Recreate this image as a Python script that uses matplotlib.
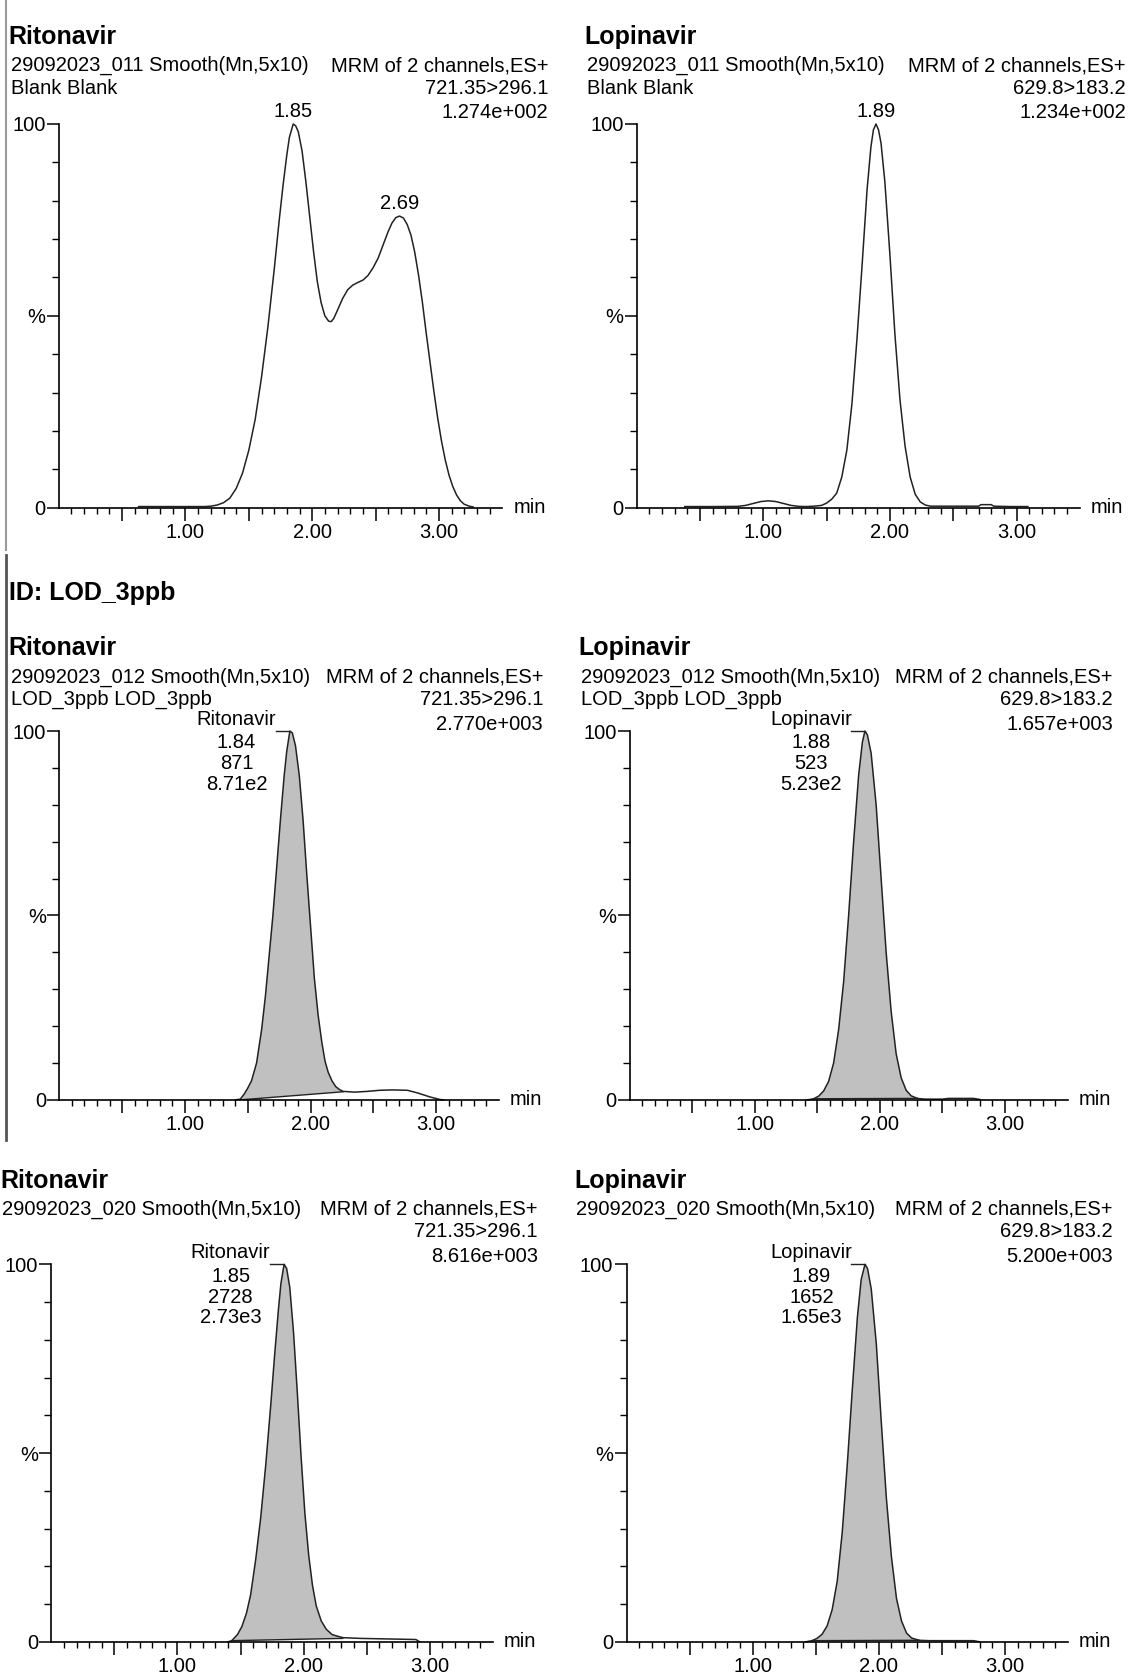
import numpy as np
import matplotlib
matplotlib.use("Agg")
import matplotlib.pyplot as plt
from matplotlib.lines import Line2D
from matplotlib.ticker import FixedLocator, NullFormatter

plt.rcParams['font.family'] = ['Liberation Sans', 'DejaVu Sans']

# ---- chromatogram traces (time in min, intensity in %) ----

# Ritonavir, 29092023_011 (blank)
rit_blank_t = [0.63, 0.80, 1.00, 1.15, 1.20, 1.25, 1.30, 1.35, 1.40, 1.45, 1.50, 1.55, 1.60, 1.65,
               1.70, 1.74, 1.77, 1.80, 1.82, 1.85, 1.87, 1.89, 1.92, 1.95, 1.98, 2.01, 2.04, 2.07,
               2.10, 2.13, 2.15, 2.17, 2.20, 2.24, 2.28, 2.32, 2.36, 2.40, 2.44, 2.48, 2.52, 2.56,
               2.60, 2.63, 2.66, 2.69, 2.72, 2.75, 2.78, 2.81, 2.84, 2.87, 2.90, 2.93, 2.96, 2.99,
               3.02, 3.05, 3.08, 3.11, 3.14, 3.17, 3.20, 3.24, 3.27]
rit_blank_i = [0.3, 0.3, 0.3, 0.3, 0.4, 0.7, 1.3, 2.5, 5, 9, 15, 23, 34, 47,
               62, 75, 84, 92, 96.5, 100, 99.5, 98, 93, 85, 76, 67, 59, 53.5,
               50, 48.6, 48.5, 49.3, 51.5, 54.5, 56.8, 58, 58.7, 59.3, 60.5, 62.5, 65, 68.5,
               72, 74.2, 75.6, 76, 75.5, 73.8, 71, 66.5, 60.5, 53.5, 45.5, 38, 30.5, 23.5,
               17.5, 12.5, 8.5, 5.5, 3.3, 1.8, 0.9, 0.4, 0.2]

# Lopinavir, 29092023_011 (blank)
lop_blank_t = [0.38, 0.60, 0.80, 0.86, 0.92, 0.98, 1.04, 1.10, 1.16, 1.22, 1.28, 1.34, 1.40, 1.46,
               1.50, 1.54, 1.58, 1.62, 1.66, 1.70, 1.74, 1.78, 1.82, 1.85, 1.87, 1.89, 1.91, 1.93,
               1.96, 2.00, 2.04, 2.08, 2.12, 2.16, 2.20, 2.24, 2.28, 2.32, 2.50, 2.70, 2.72, 2.80,
               2.82, 2.95, 3.09]
lop_blank_i = [0.3, 0.3, 0.35, 0.6, 1.1, 1.6, 1.8, 1.6, 1.1, 0.6, 0.35, 0.3, 0.4, 0.6,
               1.2, 2.2, 3.8, 8, 15, 27, 44, 63, 83, 94, 98.5, 100, 98.5, 95,
               85, 66, 45, 28, 16, 8, 3.5, 1.5, 0.7, 0.4, 0.4, 0.4, 0.8, 0.8,
               0.4, 0.3, 0.3]

# Ritonavir, 29092023_012 (LOD_3ppb)
rit_lod_t = [1.40, 1.44, 1.47, 1.50, 1.53, 1.57, 1.61, 1.64, 1.67, 1.70, 1.73, 1.76, 1.79, 1.81,
             1.835, 1.855, 1.88, 1.91, 1.94, 1.97, 2.00, 2.03, 2.06, 2.09, 2.115, 2.14, 2.17, 2.20,
             2.23, 2.26, 2.35, 2.45, 2.55, 2.65, 2.77, 2.85, 2.95, 3.03, 3.06]
rit_lod_i = [0, 0.2, 1.5, 3.2, 5.2, 10, 19, 28, 39, 50, 63, 76, 88, 94.5,
             100, 99.5, 96, 88, 76, 61, 47, 33, 23, 15.5, 10.5, 7.5, 5.2, 3.6,
             2.8, 2.3, 2.1, 2.3, 2.6, 2.7, 2.6, 1.9, 0.8, 0.1, 0]
rit_lod_base_t = [1.44, 2.26]
rit_lod_base_i = [0.0, 2.2]

# Lopinavir, 29092023_012 (LOD_3ppb)
lop_lod_t = [1.42, 1.47, 1.51, 1.55, 1.59, 1.63, 1.67, 1.71, 1.75, 1.79, 1.83, 1.86, 1.88, 1.90,
             1.93, 1.97, 2.01, 2.05, 2.09, 2.13, 2.17, 2.21, 2.25, 2.30, 2.36, 2.50, 2.55, 2.75,
             2.80]
lop_lod_i = [0, 0.3, 1.0, 2.4, 5, 10, 19, 32, 50, 70, 88, 97, 100, 99,
             94, 80, 60, 40, 24, 12.5, 6, 2.6, 1.1, 0.4, 0.2, 0.2, 0.4, 0.4,
             0.1]
lop_lod_base_t = [1.47, 2.30]
lop_lod_base_i = [0.3, 0.4]

# Ritonavir, 29092023_020
rit_020_t = [1.40, 1.43, 1.475, 1.51, 1.547, 1.58, 1.62, 1.66, 1.70, 1.74, 1.77, 1.80, 1.82, 1.845,
             1.865, 1.89, 1.92, 1.95, 1.98, 2.01, 2.04, 2.07, 2.10, 2.14, 2.18, 2.226, 2.31, 2.45,
             2.60, 2.75, 2.89, 2.92]
rit_020_i = [0, 0.3, 1.9, 4, 7.6, 12.5, 21.8, 33, 47, 63, 76, 88, 95, 100,
             99, 94, 82, 66, 49, 34, 23, 15, 9.5, 5.5, 3.3, 1.9, 1.1, 0.9,
             0.8, 0.7, 0.6, 0]
rit_020_base_t = [1.43, 2.31]
rit_020_base_i = [0.3, 0.9]

# Lopinavir, 29092023_020
lop_020_t = [1.42, 1.47, 1.51, 1.55, 1.59, 1.63, 1.67, 1.71, 1.75, 1.79, 1.83, 1.86, 1.89, 1.91,
             1.94, 1.98, 2.02, 2.06, 2.10, 2.14, 2.18, 2.22, 2.26, 2.32, 2.40, 2.55, 2.75, 2.80]
lop_020_i = [0, 0.3, 0.9, 2, 4.2, 8.5, 16, 29, 47, 67, 86, 96, 100, 99,
             93.5, 79, 58, 38, 22.5, 11.5, 5.5, 2.3, 1.0, 0.4, 0.3, 0.3, 0.3, 0]
lop_020_base_t = [1.47, 2.32]
lop_020_base_i = [0.3, 0.4]

W, H = 1056.0, 1568.0   # layout was measured on the reference at this size

fig = plt.figure(figsize=(11.29, 16.76), dpi=100)

LINE = '#222222'
FILL = '#c0c0c0'
FS = 14.5
FS_T = 18


def txt(x, y, s, ha='left', size=FS, weight='normal'):
    fig.text(x / W, 1 - (y + 1.5) / H, s, ha=ha, va='center', fontsize=size, fontweight=weight)


def header(xl, xr, y0, title, left_lines, right_lines):
    txt(xl - 2, y0, title, size=FS_T, weight='bold')
    for k, s in enumerate(left_lines):
        txt(xl, y0 + 27 + 21 * k, s)
    ys = [y0 + 27, y0 + 48, y0 + 71]
    for y, s in zip(ys, right_lines):
        txt(xr, y, s, ha='right')


def panel(x0, x1, ytop, ybot, t, inten, base_t=None, base_i=None):
    ax = fig.add_axes([x0 / W, 1 - ybot / H, (x1 - x0) / W, (ybot - ytop) / H])
    ax.set_xlim(0, 3.5)
    ax.set_ylim(0, 100)
    for s in ['top', 'right']:
        ax.spines[s].set_visible(False)
    for s in ['left', 'bottom']:
        ax.spines[s].set_linewidth(1.2)
    t = np.asarray(t)
    inten = np.asarray(inten)
    if base_t is not None:
        m = (t >= base_t[0]) & (t <= base_t[1])
        px = np.concatenate([t[m], base_t[::-1]])
        py = np.concatenate([inten[m], base_i[::-1]])
        ax.fill(px, py, color=FILL, lw=0)
        ax.plot(base_t, base_i, color=LINE, lw=1.0)
    ax.plot(t, inten, color=LINE, lw=1.1, clip_on=False, solid_joinstyle='round')

    maj = [0.5, 1.0, 1.5, 2.0, 2.5, 3.0]
    mnr = [round(0.1 * k, 1) for k in range(1, 35) if round(0.1 * k, 1) not in maj]
    ax.xaxis.set_major_locator(FixedLocator(maj))
    ax.xaxis.set_minor_locator(FixedLocator(mnr))
    ax.set_xticklabels(['' if v % 1 else '%.2f' % v for v in maj])
    ax.tick_params(axis='x', which='major', length=9, width=1.1, direction='out', labelsize=FS, pad=2)
    ax.tick_params(axis='x', which='minor', length=4, width=1.0, direction='out')
    ax.yaxis.set_major_locator(FixedLocator([0, 50, 100]))
    ax.yaxis.set_minor_locator(FixedLocator([10, 20, 30, 40, 60, 70, 80, 90]))
    ax.set_yticklabels(['0', '%', '100'])
    ax.yaxis.set_minor_formatter(NullFormatter())
    ax.tick_params(axis='y', which='major', length=8.5, width=1.1, direction='out', labelsize=FS, pad=1)
    ax.tick_params(axis='y', which='minor', length=4.8, width=1.0, direction='out')
    ax.annotate('min', xy=(1, 0), xycoords='axes fraction', xytext=(8, 0),
                textcoords='offset points', ha='left', va='center', fontsize=FS)
    return ax


def rt_label(ax, t, inten, label):
    t = np.asarray(t)
    inten = np.asarray(inten)
    # label the apex nearest to the given retention time
    k = np.argmin(np.abs(t - float(label)))
    ax.annotate(label, xy=(t[k], inten[k]), xytext=(0, 9), textcoords='offset points',
                ha='center', va='center', fontsize=FS)


def peak_block(ax, t, inten, name, lines):
    k = int(np.argmax(inten))
    tp, ip = t[k], inten[k]
    ax.plot([tp - 0.11, tp], [ip, ip], color=LINE, lw=1.0, clip_on=False)
    ax.annotate(name, xy=(tp, ip), xytext=(-38.5, 8.5), textcoords='offset points',
                ha='center', va='center', fontsize=FS)
    for j, s in enumerate(lines):
        ax.annotate(s, xy=(tp, ip), xytext=(-38.5, -8.5 - 15 * j), textcoords='offset points',
                    ha='center', va='center', fontsize=FS)


# ---- top row: blank ----
header(10, 513, 33, 'Ritonavir', ['29092023_011 Smooth(Mn,5x10)', 'Blank Blank'],
       ['MRM of 2 channels,ES+', '721.35>296.1', '1.274e+002'])
ax = panel(55, 469.75, 116, 475, rit_blank_t, rit_blank_i)
rt_label(ax, rit_blank_t, rit_blank_i, '1.85')
rt_label(ax, rit_blank_t, rit_blank_i, '2.69')

header(549, 1053, 33, 'Lopinavir', ['29092023_011 Smooth(Mn,5x10)', 'Blank Blank'],
       ['MRM of 2 channels,ES+', '629.8>183.2', '1.234e+002'])
ax = panel(595.5, 1010, 116, 475, lop_blank_t, lop_blank_i)
rt_label(ax, lop_blank_t, lop_blank_i, '1.89')

txt(8, 553, 'ID: LOD_3ppb', size=FS_T, weight='bold')

# ---- middle row: LOD_3ppb ----
header(10, 508, 605, 'Ritonavir', ['29092023_012 Smooth(Mn,5x10)', 'LOD_3ppb LOD_3ppb'],
       ['MRM of 2 channels,ES+', '721.35>296.1', '2.770e+003'])
ax = panel(55.5, 466.75, 684, 1029, rit_lod_t, rit_lod_i, rit_lod_base_t, rit_lod_base_i)
peak_block(ax, rit_lod_t, rit_lod_i, 'Ritonavir', ['1.84', '871', '8.71e2'])

header(543, 1041, 605, 'Lopinavir', ['29092023_012 Smooth(Mn,5x10)', 'LOD_3ppb LOD_3ppb'],
       ['MRM of 2 channels,ES+', '629.8>183.2', '1.657e+003'])
ax = panel(589, 998.5, 684, 1029, lop_lod_t, lop_lod_i, lop_lod_base_t, lop_lod_base_i)
peak_block(ax, lop_lod_t, lop_lod_i, 'Lopinavir', ['1.88', '523', '5.23e2'])

# ---- bottom row: 020 ----
header(2, 503, 1103, 'Ritonavir', ['29092023_020 Smooth(Mn,5x10)'],
       ['MRM of 2 channels,ES+', '721.35>296.1', '8.616e+003'])
ax = panel(48, 461, 1183, 1536, rit_020_t, rit_020_i, rit_020_base_t, rit_020_base_i)
peak_block(ax, rit_020_t, rit_020_i, 'Ritonavir', ['1.85', '2728', '2.73e3'])

header(539, 1041, 1103, 'Lopinavir', ['29092023_020 Smooth(Mn,5x10)'],
       ['MRM of 2 channels,ES+', '629.8>183.2', '5.200e+003'])
ax = panel(586, 999, 1183, 1536, lop_020_t, lop_020_i, lop_020_base_t, lop_020_base_i)
peak_block(ax, lop_020_t, lop_020_i, 'Lopinavir', ['1.89', '1652', '1.65e3'])

# page border marks on the left
fig.add_artist(Line2D([6 / W, 6 / W], [1, 1 - 515 / H], color='#9a9a9a', lw=1.5))
fig.add_artist(Line2D([6 / W, 6 / W], [1 - 519 / H, 1 - 1067 / H], color='#555555', lw=2.0))

fig.savefig('out.png', dpi=100)
